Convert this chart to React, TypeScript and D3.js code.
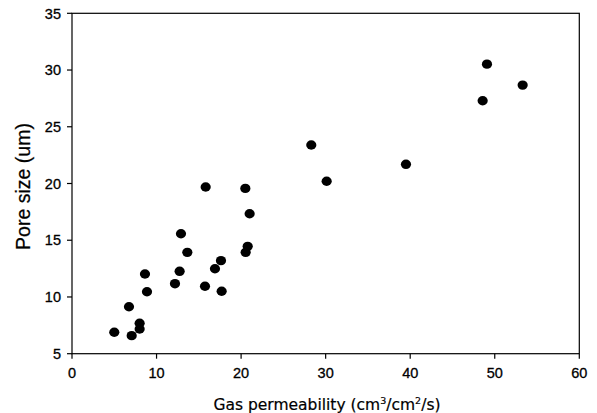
import React from "react";
import * as d3 from "d3";

const permeability = [5.0, 7.06, 6.74, 8.0, 8.0, 8.63, 8.87, 12.18, 12.73, 12.89, 13.64, 15.73, 16.91, 17.62, 17.7, 20.54, 20.78, 21.01, 15.81, 20.5, 28.3, 30.12, 39.5, 48.57, 49.08, 53.3];
const poreSize = [6.89, 6.59, 9.14, 7.68, 7.18, 12.02, 10.46, 11.17, 12.26, 15.57, 13.93, 10.94, 12.49, 13.2, 10.5, 13.93, 14.46, 17.33, 19.69, 19.57, 23.39, 20.2, 21.69, 27.29, 30.52, 28.67];
const xTicks = [0, 10, 20, 30, 40, 50, 60];
const yTicks = [5, 10, 15, 20, 25, 30, 35];
const yLabel = "Pore size (um)";

export default function App() {
  const W = 597, H = 413;
  const left = 72, right = 579.3, top = 13.3, bottom = 353.7;
  const x = d3.scaleLinear().domain([0, 60]).range([left, right]);
  const y = d3.scaleLinear().domain([5, 35]).range([bottom, top]);
  const font = "Arial, 'Liberation Sans', sans-serif";
  const wide = "'DejaVu Sans', sans-serif";
  return (
    <svg width={W} height={H} style={{ position: "absolute", left: 0, top: 0, background: "#fff" }}>
      <rect x={left} y={top} width={right - left} height={bottom - top} fill="none" stroke="#000" strokeWidth={1.2} />
      {xTicks.map((t) => (
        <g key={"x" + t}>
          <line x1={x(t)} x2={x(t)} y1={bottom} y2={bottom + 5} stroke="#000" strokeWidth={1.2} />
          <text x={x(t)} y={bottom + 24} textAnchor="middle" fontFamily={font} fontSize={14.5} fill="#000" stroke="#000" strokeWidth={0.3}>{t}</text>
        </g>
      ))}
      {yTicks.map((t) => (
        <g key={"y" + t}>
          <line x1={left - 5} x2={left} y1={y(t)} y2={y(t)} stroke="#000" strokeWidth={1.2} />
          <text x={left - 11} y={y(t) + 5.2} textAnchor="end" fontFamily={font} fontSize={14.5} fill="#000" stroke="#000" strokeWidth={0.3}>{t}</text>
        </g>
      ))}
      {permeability.map((v, i) => (
        <ellipse key={i} cx={x(v)} cy={y(poreSize[i])} rx={5.1} ry={4.7} fill="#000" />
      ))}
      <text x={327} y={409.5} textAnchor="middle" fontFamily={wide} fontSize={15.5} fill="#000" stroke="#000" strokeWidth={0.2}>
        <tspan>Gas permeability (cm</tspan>
        <tspan dy={-6} fontSize={9.5}>3</tspan>
        <tspan dy={6}>/cm</tspan>
        <tspan dy={-6} fontSize={9.5}>2</tspan>
        <tspan dy={6}>/s)</tspan>
      </text>
      <text transform={`translate(30,186.5) rotate(-90)`} textAnchor="middle" fontFamily={font} fontSize={19.5} fill="#000" stroke="#000" strokeWidth={0.25}>{yLabel}</text>
    </svg>
  );
}
